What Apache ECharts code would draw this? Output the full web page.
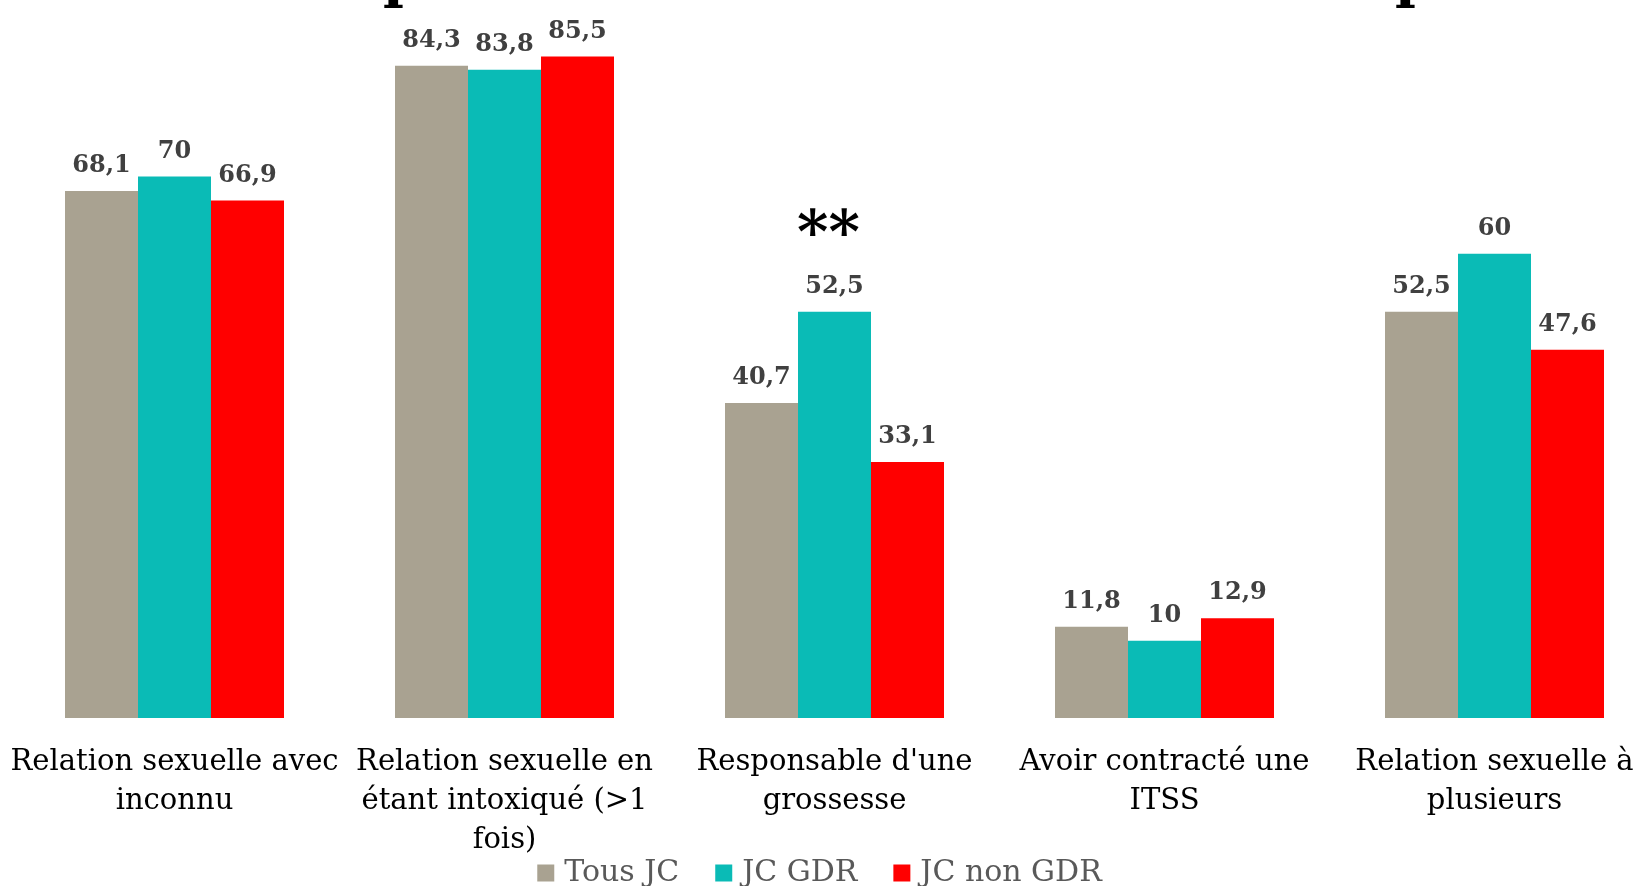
<!DOCTYPE html>
<html>
<head>
<meta charset="utf-8">
<script src="https://cdn.jsdelivr.net/npm/echarts@6/dist/echarts.min.js"></script>
<style>
  html, body { margin: 0; padding: 0; background: #fff; }
  #chart { width: 1639px; height: 886px; }
</style>
</head>
<body>
<div id="chart"></div>
<script>
// categories (line breaks as in the picture)
var categories = [
  'Relation sexuelle avec\ninconnu',
  'Relation sexuelle en\nétant intoxiqué (>1\nfois)',
  "Responsable d'une\ngrossesse",
  'Avoir contracté une\nITSS',
  'Relation sexuelle à\nplusieurs'
]
var seriesNames = ['Tous JC', 'JC GDR', 'JC non GDR']
var tousJC = [68.1, 84.3, 40.7, 11.8, 52.5]
var jcGDR = [70, 83.8, 52.5, 10, 60]
var jcNonGDR = [66.9, 85.5, 33.1, 12.9, 47.6]
// significance mark, on the JC GDR bar
var signifIndex = 2
var signifText = '**'

var font = 'DejaVu Serif'

function fmt(v) {
  return String(v).replace('.', ',')
}

var valueLabel = {
  show: true,
  position: 'top',
  distance: 13,
  fontFamily: font,
  fontWeight: 'bold',
  fontSize: 24,
  color: '#404040',
  formatter: function (p) { return fmt(p.value) },
}

var gdrData = jcGDR.map(function (v, i) {
  if (i !== signifIndex) return v
  return {
    value: v,
    label: {
      distance: 10,
      formatter: function (p) { return '{s|' + signifText + '}\n{v|' + fmt(p.value) + '}' },
      rich: {
        s: { fontFamily: font, fontWeight: 'bold', fontSize: 60, color: '#000', lineHeight: 68, padding: [0, 12, 0, 0] },
        v: { fontFamily: font, fontWeight: 'bold', fontSize: 24, color: '#404040', lineHeight: 30 },
      },
    },
  }
})

var myChart = echarts.init(document.getElementById('chart'))
var option = {
  animation: false,
  color: ['#A9A291', '#0ABBB6', '#FF0000'],
  textStyle: { fontFamily: font },
  graphic: [
    // bottom of the cut-off title
    { type: 'text', left: 383, top: -47, style: { text: 'p', fontFamily: font, fontWeight: 'bold', fontSize: 56, fill: '#000' } },
    { type: 'text', left: 1395, top: -47, style: { text: 'p', fontFamily: font, fontWeight: 'bold', fontSize: 56, fill: '#000' } },
  ],
  legend: {
    bottom: -7,
    left: 'center',
    itemWidth: 17,
    itemHeight: 17,
    itemGap: 36,
    icon: 'rect',
    data: seriesNames,
    textStyle: { fontFamily: font, fontSize: 30, color: '#595959', padding: [0, 0, 0, 5] },
  },
  grid: {
    top: 0,
    bottom: 168,
    left: 9.5,
    width: 1650,
    outerBoundsMode: 'none',
    containLabel: false,
  },
  xAxis: {
    type: 'category',
    data: categories,
    axisLine: { show: false },
    axisTick: { show: false },
    axisLabel: {
      interval: 0,
      margin: 25,
      fontFamily: font,
      fontSize: 29,
      lineHeight: 39,
      color: '#000',
    },
  },
  yAxis: {
    type: 'value',
    show: false,
    min: 0,
    max: 92.8,
  },
  series: [
    { name: seriesNames[0], type: 'bar', data: tousJC, barWidth: 73, barGap: '0%', label: valueLabel },
    { name: seriesNames[1], type: 'bar', data: gdrData, barWidth: 73, barGap: '0%', label: valueLabel },
    { name: seriesNames[2], type: 'bar', data: jcNonGDR, barWidth: 73, barGap: '0%', label: valueLabel },
  ],
}
myChart.setOption(option)
</script>
</body>
</html>
